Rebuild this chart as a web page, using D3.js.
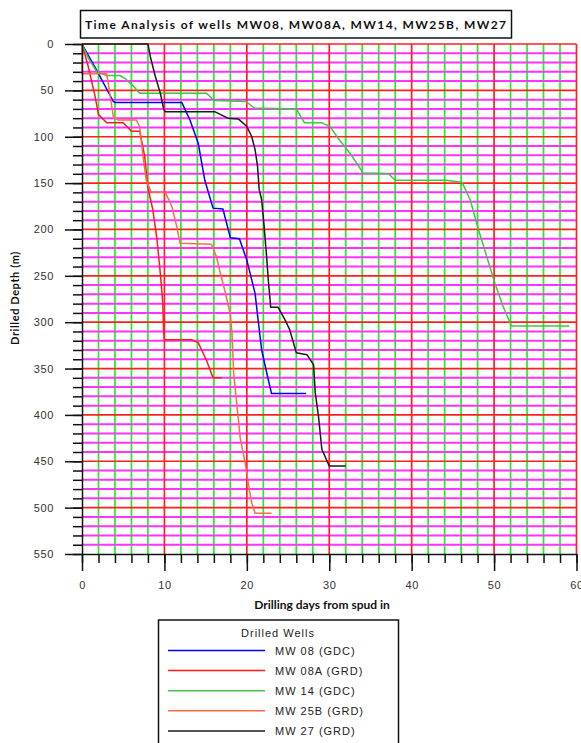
<!DOCTYPE html>
<html>
<head>
<meta charset="utf-8">
<script src="https://cdn.jsdelivr.net/npm/d3@7"></script>
<style>
body { margin: 0; background: #fff; }
svg { display: block; }
.tick text { font-family: "Liberation Sans", Arial, sans-serif; font-size: 11px; fill: #333; letter-spacing: 0.6px; }
.axis path, .axis line { stroke: #111; stroke-width: 1.5; }
</style>
</head>
<body>
<svg id="chart" width="581" height="743"></svg>
<script>
// wells, [drilling day, drilled depth m]
var wells = ["MW 08 (GDC)", "MW 08A (GRD)", "MW 14 (GDC)", "MW 25B (GRD)", "MW 27 (GRD)"];
var colors = ["#0000ff", "#ff1a1a", "#44c244", "#ff6a48", "#1a1a1a"];

var mw08 = [[0,0],[2,32],[3.8,62],[4,63],[12.1,63],[13.1,82],[14.1,107],[14.9,147],[15.9,177],
    [17.1,178],[18,209],[19.1,210],[20,233],[21,269],[21.4,300],[21.8,330],[22.5,358],[23,377],[27.2,377]];
var mw08a = [[0,0],[0.75,24],[1.6,57],[2,76],[3,85],[5,85],[6,94],[7,94],[7.2,103],[7.6,121],[8,155],
    [8.6,179],[9.1,211],[9.5,247],[9.8,279],[9.9,308],[10,319],[13.3,319],[14.1,322],[15.1,341],[15.9,360],[17,360]];
var mw14 = [[0,0],[0.75,15],[1.8,30],[3,34],[4.6,34],[5.2,37],[6.3,46],[7,53],[15.1,53],[16,61],[19.9,62],
    [20.9,69],[26,70],[27,85],[29.1,85],[30.1,89],[31.1,102],[32.7,120],[34.1,139],[37.2,140],[38,147],
    [44.2,147],[46.1,149],[47.1,168],[48.1,200],[49.1,229],[50.1,258],[51.1,283],[52.1,304],[59.1,304]];
var mw25b = [[0,0],[0,32],[3,32],[3.8,78],[4.4,82],[6.6,82],[7,89],[7.4,121],[7.8,147],[8.4,160],[10.1,160],
    [10.9,175],[11.5,197],[11.9,215],[15.7,216],[16.3,229],[16.9,251],[17.5,272],[18,292],[18.2,312],
    [18.4,355],[18.8,390],[19.2,425],[19.8,452],[20.2,475],[20.6,495],[21,506],[23,506]];
var mw27 = [[0,0],[8,0],[8.3,14],[8.9,35],[9.5,53],[9.9,70],[10.1,73],[16.1,73],[17.7,80],[19,81],[20,89],
    [20.6,100],[21,114],[21.3,132],[21.5,157],[21.8,168],[22.1,197],[22.4,229],[22.6,254],[22.9,284],
    [23.8,284],[24.6,297],[25.2,308],[26,333],[27.3,335],[28.1,346],[28.3,376],[28.7,402],[29.1,437],
    [30,455],[32,455]];
var series = [mw08, mw08a, mw14, mw25b, mw27];

var dayTicks = [0, 10, 20, 30, 40, 50, 60],
    depthTicks = [0, 50, 100, 150, 200, 250, 300, 350, 400, 450, 500, 550];

var title = "Time Analysis of wells MW08, MW08A, MW14, MW25B, MW27";

var svg = d3.select("#chart");

var x = d3.scaleLinear().domain([0, 60]).range([82, 576.5]),
    y = d3.scaleLinear().domain([0, 550]).range([44, 554]);

// grid: minor green / magenta, then red majors
var grid = svg.append("g");
grid.selectAll(".vmin").data(d3.range(2, 60, 2).filter(function (d) { return d % 10; }))
    .enter().append("line")
    .attr("x1", x).attr("x2", x).attr("y1", y(0)).attr("y2", y(550))
    .attr("stroke", "#1ef01e").attr("stroke-width", 1.7);
grid.selectAll(".hmin").data(d3.range(10, 550, 10).filter(function (d) { return d % 50; }))
    .enter().append("line")
    .attr("y1", y).attr("y2", y).attr("x1", x(0)).attr("x2", x(60))
    .attr("stroke", "#ff33ff").attr("stroke-width", 2);
grid.selectAll(".vmaj").data(dayTicks.slice(1))
    .enter().append("line")
    .attr("x1", x).attr("x2", x).attr("y1", y(0)).attr("y2", y(550))
    .attr("stroke", "#ff2020").attr("stroke-width", 1.7);
grid.selectAll(".hmaj").data(depthTicks.slice(0, -1))
    .enter().append("line")
    .attr("y1", y).attr("y2", y).attr("x1", x(0)).attr("x2", x(60))
    .attr("stroke", "#ff2020").attr("stroke-width", 1.7);

// wells
var line = d3.line().x(function (d) { return x(d[0]); }).y(function (d) { return y(d[1]); });
svg.append("g").selectAll("path").data(series).enter().append("path")
    .attr("d", line).attr("fill", "none")
    .attr("stroke", function (d, i) { return colors[i]; })
    .attr("stroke-width", 1.5).attr("stroke-linejoin", "round");

// axes
svg.append("g").attr("class", "axis").attr("transform", "translate(" + x(0) + ",0)")
    .call(d3.axisLeft(y).tickValues(d3.range(0, 551, 10)).tickSize(9).tickFormat(""))
    .select(".domain").remove();
svg.append("g").attr("class", "axis").attr("transform", "translate(" + x(0) + ",0)")
    .call(d3.axisLeft(y).tickValues(depthTicks).tickSize(17).tickPadding(11).tickSizeOuter(0));
svg.append("g").attr("class", "axis").attr("transform", "translate(0," + y(550) + ")")
    .call(d3.axisBottom(x).tickValues(d3.range(0, 61, 2)).tickSize(9).tickFormat(""))
    .select(".domain").remove();
svg.append("g").attr("class", "axis").attr("transform", "translate(0," + y(550) + ")")
    .call(d3.axisBottom(x).tickValues(dayTicks).tickSize(17).tickPadding(10).tickSizeOuter(0));

// title box
svg.append("rect").attr("x", 80.5).attr("y", 10.5).attr("width", 431).attr("height", 27.5)
    .attr("fill", "#fff").attr("stroke", "#111").attr("stroke-width", 1.5);
svg.append("text").attr("x", 85).attr("y", 28.5)
    .attr("font-family", "Lato, 'Open Sans', sans-serif").attr("font-weight", "bold")
    .attr("font-size", 12).attr("fill", "#111")
    .attr("textLength", 421).attr("lengthAdjust", "spacing")
    .text(title);

// axis titles
svg.append("text").attr("transform", "translate(19,298)rotate(-90)")
    .attr("text-anchor", "middle")
    .attr("font-family", "Lato, sans-serif").attr("font-weight", "bold")
    .attr("font-size", 11).attr("fill", "#111").attr("letter-spacing", 0.6)
    .text("Drilled Depth (m)");
svg.append("text").attr("x", 322).attr("y", 609)
    .attr("text-anchor", "middle")
    .attr("font-family", "Lato, sans-serif").attr("font-weight", "bold")
    .attr("font-size", 12).attr("fill", "#111")
    .text("Drilling days from spud in");

// legend
var legend = svg.append("g");
legend.append("rect").attr("x", 158.5).attr("y", 620).attr("width", 240).attr("height", 140)
    .attr("fill", "#fff").attr("stroke", "#111").attr("stroke-width", 1.5);
legend.append("text").attr("x", 278).attr("y", 637)
    .attr("text-anchor", "middle")
    .attr("font-family", "'Liberation Sans', Arial, sans-serif")
    .attr("font-size", 11).attr("fill", "#222").attr("letter-spacing", 1)
    .text("Drilled Wells");
var rows = legend.selectAll(".row").data(wells).enter().append("g")
    .attr("transform", function (d, i) { return "translate(0," + (650.5 + i * 20.1) + ")"; });
rows.append("line").attr("x1", 168).attr("x2", 265)
    .attr("stroke", function (d, i) { return colors[i]; }).attr("stroke-width", 1.5);
rows.append("text").attr("x", 275).attr("y", 4)
    .attr("font-family", "'Liberation Sans', Arial, sans-serif")
    .attr("font-size", 11).attr("fill", "#222").attr("letter-spacing", 1)
    .text(function (d) { return d; });
</script>
</body>
</html>
